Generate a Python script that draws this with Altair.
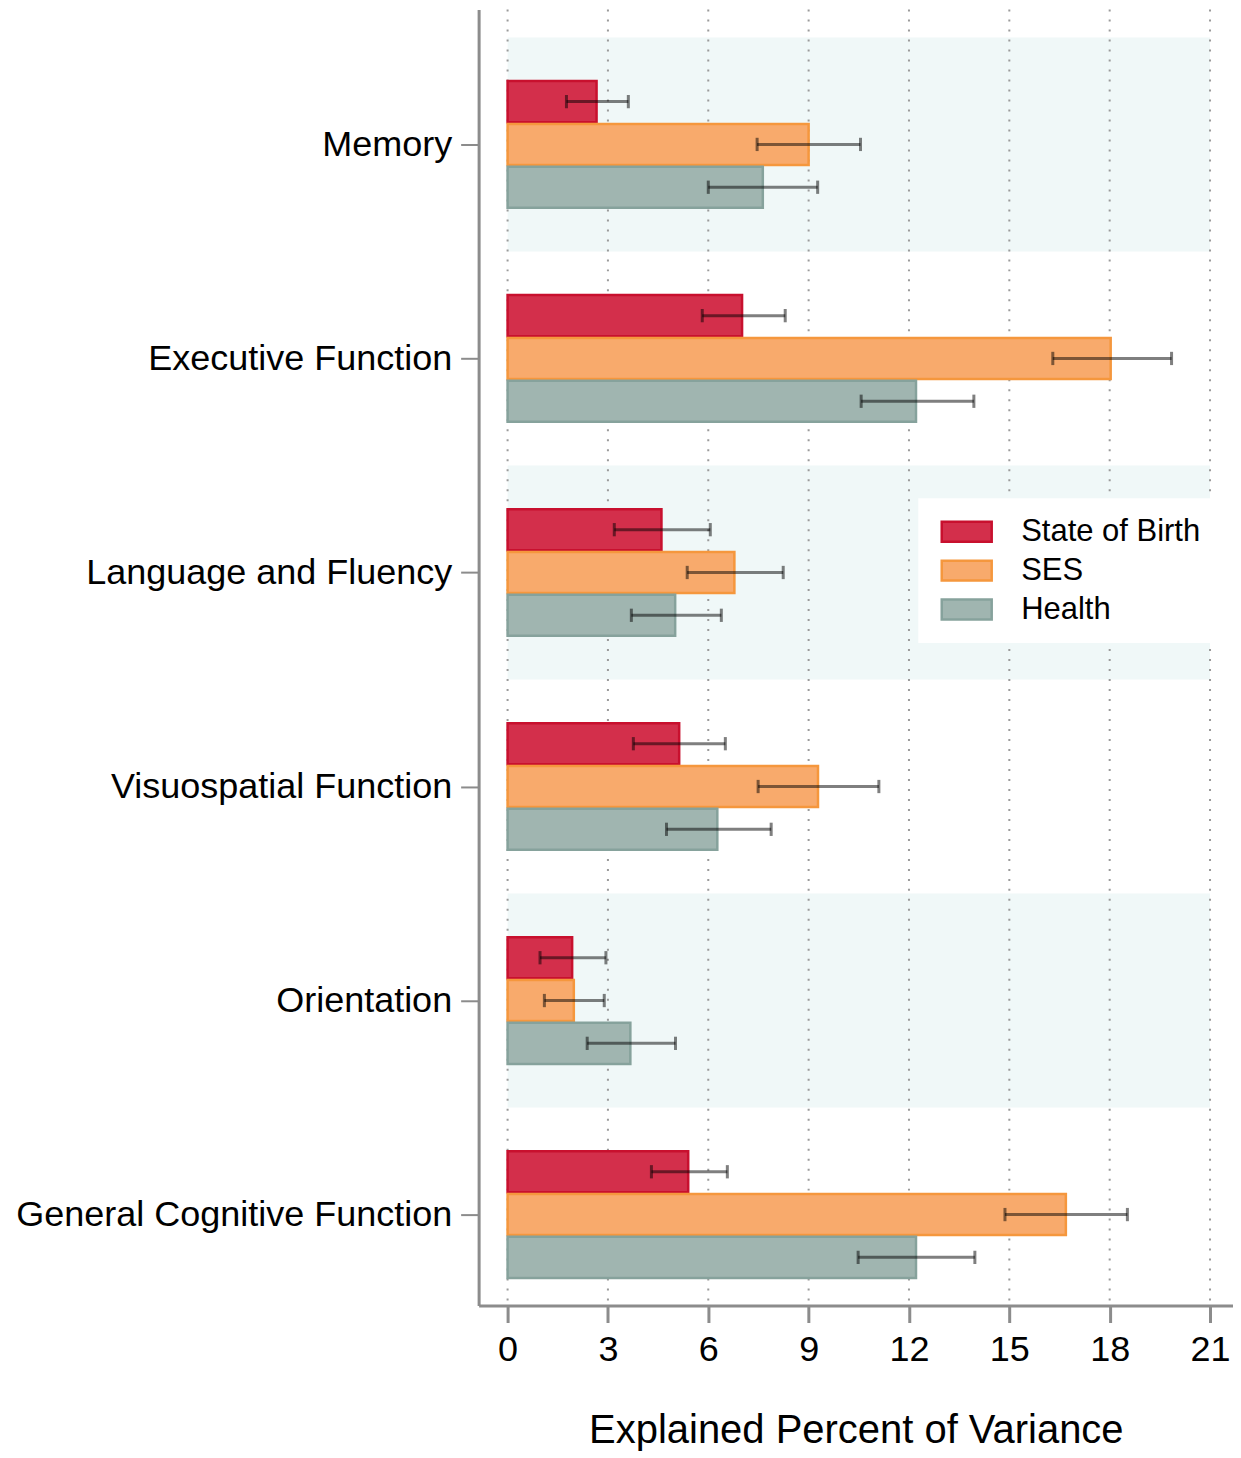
import altair as alt
import pandas as pd

categories = ["Memory", "Executive Function", "Language and Fluency",
              "Visuospatial Function", "Orientation", "General Cognitive Function"]
series = ["State of Birth", "SES", "Health"]

sob = [2.66, 7.01, 4.60, 5.13, 1.93, 5.40]
sob_lo = [1.76, 5.82, 3.19, 3.76, 0.97, 4.30]
sob_hi = [3.61, 8.30, 6.06, 6.51, 2.94, 6.57]

ses = [9.00, 18.03, 6.78, 9.28, 1.98, 16.69]
ses_lo = [7.46, 16.30, 5.37, 7.49, 1.10, 14.87]
ses_hi = [10.55, 19.85, 8.24, 11.10, 2.89, 18.53]

health = [7.63, 12.21, 5.01, 6.27, 3.67, 12.21]
health_lo = [6.00, 10.57, 3.70, 4.75, 2.38, 10.48]
health_hi = [9.27, 13.94, 6.39, 7.88, 5.02, 13.97]

x_ticks = [0, 3, 6, 9, 12, 15, 18, 21]
shaded = [0, 2, 4]

fill_colors = ["#d32f4b", "#f8aa6c", "#a0b5b0"]
stroke_colors = ["#c8102e", "#f5973d", "#86a29c"]

rows = []
for si, (s, v, lo, hi) in enumerate([
        (series[0], sob, sob_lo, sob_hi),
        (series[1], ses, ses_lo, ses_hi),
        (series[2], health, health_lo, health_hi)]):
    for ci, c in enumerate(categories):
        rows.append({"category": c, "cidx": ci, "series": s, "sidx": si,
                     "value": v[ci], "lo": lo[ci], "hi": hi[ci]})
df = pd.DataFrame(rows)

bands_df = pd.DataFrame({"cidx": shaded})
grid_df = pd.DataFrame({"t": x_ticks})

W, H = 755, 1297
xscale = alt.Scale(domain=[-0.866, 21.687], nice=False, zero=False)
yscale = alt.Scale(domain=[-0.63, 5.425], nice=False, zero=False, reverse=True)

label_js = "[" + ",".join('"%s"' % c for c in categories) + "]"

x_axis = alt.Axis(values=x_ticks, grid=False, title="Explained Percent of Variance",
                  labelFontSize=36, titleFontSize=40, titleFontWeight="normal",
                  tickSize=17, tickWidth=3, tickColor="#8c8c8c",
                  domainColor="#8c8c8c", domainWidth=3, labelPadding=10,
                  titlePadding=43, labelColor="black", titleColor="black",
                  labelFont="Liberation Sans", titleFont="Liberation Sans")
y_axis = alt.Axis(values=[0, 1, 2, 3, 4, 5], grid=False, title=None,
                  labelExpr=label_js + "[datum.value]", labelLimit=0,
                  labelFontSize=36, tickSize=18, tickWidth=2, tickColor="#8c8c8c",
                  domainColor="#8c8c8c", domainWidth=3, labelPadding=9,
                  labelColor="black", labelFont="Liberation Sans")

bands = alt.Chart(bands_df).transform_calculate(
    y0="datum.cidx - 0.5", y1="datum.cidx + 0.5", x0="0", x1="21"
).mark_rect(color="#f0f8f8").encode(
    x=alt.X("x0:Q", scale=xscale, axis=x_axis),
    x2="x1:Q",
    y=alt.Y("y0:Q", scale=yscale, axis=y_axis),
    y2="y1:Q",
)

grid = alt.Chart(grid_df).mark_rule(
    color="#9a9a9a", strokeWidth=2, strokeDash=[2, 8]
).encode(x=alt.X("t:Q", scale=xscale))

base = alt.Chart(df).transform_calculate(
    pos="datum.cidx + (datum.sidx - 1) * 0.2",
    ytop="datum.cidx + (datum.sidx - 1) * 0.2 - 0.096",
    ybot="datum.cidx + (datum.sidx - 1) * 0.2 + 0.096",
    ctop="datum.cidx + (datum.sidx - 1) * 0.2 - 0.031",
    cbot="datum.cidx + (datum.sidx - 1) * 0.2 + 0.031",
    zero="0",
)

legend = alt.Legend(
    title=None, orient="none", legendX=440, legendY=489,
    labelFontSize=31, labelFont="Liberation Sans", labelColor="black", labelLimit=0,
    symbolType="M-1,-1H4V1H-1Z", symbolSize=400, symbolStrokeWidth=2.5,
    labelOffset=54, rowPadding=7, padding=18, fillColor="white",
    symbolOpacity=1,
)

bars = base.mark_rect(strokeWidth=2.5).encode(
    x=alt.X("zero:Q", scale=xscale),
    x2="value:Q",
    y=alt.Y("ytop:Q", scale=yscale),
    y2="ybot:Q",
    fill=alt.Fill("series:N", scale=alt.Scale(domain=series, range=fill_colors),
                  legend=legend, sort=series),
    stroke=alt.Stroke("series:N", scale=alt.Scale(domain=series, range=stroke_colors),
                      legend=legend, sort=series),
)

err = base.mark_rule(color="black", opacity=0.5, strokeWidth=3).encode(
    x=alt.X("lo:Q", scale=xscale),
    x2="hi:Q",
    y=alt.Y("pos:Q", scale=yscale),
)
cap_lo = base.mark_rule(color="black", opacity=0.5, strokeWidth=3).encode(
    x=alt.X("lo:Q", scale=xscale),
    y=alt.Y("ctop:Q", scale=yscale),
    y2="cbot:Q",
)
cap_hi = base.mark_rule(color="black", opacity=0.5, strokeWidth=3).encode(
    x=alt.X("hi:Q", scale=xscale),
    y=alt.Y("ctop:Q", scale=yscale),
    y2="cbot:Q",
)

chart = alt.layer(bands, grid, bars, err, cap_lo, cap_hi).properties(
    width=W, height=H,
    padding={"left": 7, "top": 0, "right": 0, "bottom": 0},
    background="white",
).configure_view(stroke=None).resolve_scale(x="shared", y="shared")

chart.save("out.html", embed_options={"renderer": "svg", "actions": False})
